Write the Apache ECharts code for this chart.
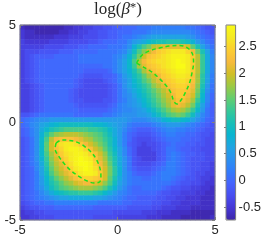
<!DOCTYPE html>
<html><head><meta charset="utf-8">
<script src="https://cdn.jsdelivr.net/npm/echarts@6/dist/echarts.min.js"></script>
<style>html,body{margin:0;padding:0;background:#fff}#c{width:264px;height:242px}</style>
</head><body><div id="c"></div>
<script>
// ---- data ----
const xTicks = [-5, 0, 5];
const yTicks = [-5, 0, 5];
const cbTicks = [-0.5, 0, 0.5, 1, 1.5, 2, 2.5];
const cbMin = -0.74, cbMax = 2.9;
// each character is one cell value: A=-0.8, B=-0.7, ... I=0.0 ... S=1.0 ... c=2.0 ... l=2.9
const levelChars = "ABCDEFGHIJKLMNOPQRSTUVWXYZabcdefghijkl";
const levelBase = -0.8, levelStep = 0.1;
// rows from top (y = 5) to bottom (y = -5), columns from x = -5 to x = 5
const gridRows = [
"CBBBBBBBBCCDDEEFFGGHHIIIJJJKKKKKKKJJIHGG",
"DCCBBBBBCCDDEEFFGGHHIIIJJJKLLLLLLLLKJIHG",
"DCCCCCCDDDEEEFFFGGHHIJJKLMNOOOOOOONMKJIH",
"EDDDDDEEEEFFFFGGHIIIJJLNOPRSTTUUUTSQNLJI",
"EEEEEFFFFGGGHHIIIIJJJKMQTWYbcdddddcXTOLJ",
"EFFFGGGGHHHIIIIIJJJJKLOSWZceghijjjheYTOK",
"EFGHHHHIIIIIJJJJJJJKLNQUYcfghijkkkjgbVPL",
"EFGHIIIIIIIIJJJJJJJKMORWbeghiijklkjgbVPL",
"EFGHIIIIIIIIIIIIIJJKMORVadfghijklljgbVPL",
"EFGHIIIIIIIIIHHHHHIKMOQTWadfghijkkjgbVPL",
"EFGHIIIIIIIIHGGGGHHIKNPSUXaceghijjifaUOK",
"EFGHIIIIIIIHGFFFFGHIKMORTWYbdfghiihfaUOK",
"EEFGHIIIIIIHGFFFFFGHJMOQSUWZbdfghhgeZTNJ",
"EEFGHIIIIIHGFFFFFFGHJLNPRTVXZbdfggfdYSMJ",
"EEFGHIIIIIHGFFFFFFGHJLMOQSUWYaceggecXRLI",
"EEFGHIIIIIHGGFFFFGGHJKMNPRTVXZbdffdaVQLI",
"EEFGHIIIIIIHGGGGGGHIKLMNOQSUWYadedbYTOKH",
"EEFGHIIIIIIIHHHHHHIJKLLMNOQSUWYabaYVRNJH",
"GGHIJJJJJJJIIIIIIJJKLMMMNNOQSUWXYXVSOLJH",
"IJKLMMNNNNNNNNNNNNNNNNMLLLMNOQRSSRQOMKIH",
"IJLMOPQRSSSSSSSRRQPONMKJJJJKLMNNNMLKJIHG",
"HIKMPRTUVWWWWWVVUTRPNLJIHHHIJKLLKKJJIHGG",
"HIKMQUXZabbbaZYXWUSPNKIHGGGHIJKKJJIIHGGF",
"GHJMRWbefffedbaYXVTQNKIGFFFGHIJJJIIHHGFF",
"GHJMRXcgijjigecaYWTQNKHGFEFFGHIJIIHHGGFF",
"GHJMRXcfhjkkjhfcaXUROLIGEEEFGHJJIHHGGFFF",
"GHJMRWadgijkkjhfcZVSOLIGEEEEGHJKJIHHGGFF",
"GHJMQVZcfhjklkjgdaWTPMJGFEEEGHJKJIHGGGFF",
"GHJLPUYbdgikllkhebXTPMJGFFFGHIKKJIHGGFFE",
"GHILOTXacehjklkifcYUQMJHGGGHIJKKJIHGGFFE",
"GHIKOSWZbdfhjkkjgcYUQMKIHHHIJKKKJIHGFFEE",
"GHIKNRUXZbdfghhgfcXTPMKJJIIJJKKJIHGGFEED",
"GHIKNQTVXZacdeedcZWSOMKJJJJJJJJIHGGFFEDD",
"GHIKMPSUWXYZaaaZYWTQNLJIIJJJJIHGGFFEEDDC",
"GHIJLNPRSTUUVVVUTRPNLKJIIIIIHGGFFEEEDDCC",
"GHIJKLMNOOPPPPPOONMLKJIIHHHHGGFFEEDDDCCC",
"FGHIIJJKKKKKKKKKJJJJJIIHHHHGGFFEEDDDDCCC",
"EFGGHHHIIIIIIIIHHHHHHHGGGGGFFEEEDDDCCCCC",
"DEEFFGGGGGGGGGGGGGGFFFFFFEEEDDDCCCCBBBBB",
"DDEEFFFGGGGGGGGFFFFFEEEEEEDDDCCCCBBBBBBC"
];
// dashed contour around the upper-right peak (data coordinates)
const contourAx = [0.98, 1.25, 1.65, 2.15, 2.65, 3.15, 3.60, 3.85, 3.90, 3.82, 3.70, 3.50, 3.28, 3.05, 2.88, 2.75, 2.50, 2.15, 1.75, 1.35, 0.98];
const contourAy = [3.04, 3.45, 3.68, 3.82, 3.92, 3.95, 3.82, 3.50, 3.05, 2.55, 2.05, 1.58, 1.18, 0.95, 1.10, 1.50, 1.88, 2.25, 2.60, 2.83, 3.04];
// dashed contour around the lower-left peak
const contourBx = [-3.15, -2.85, -2.45, -2.05, -1.70, -1.35, -1.08, -0.90, -0.85, -0.92, -1.20, -1.60, -2.00, -2.35, -2.70, -3.00, -3.20, -3.15];
const contourBy = [-1.05, -0.90, -0.92, -1.02, -1.22, -1.52, -1.90, -2.35, -2.75, -3.05, -3.10, -2.98, -2.75, -2.50, -2.15, -1.75, -1.35, -1.05];

// ---- build ----
const nRows = gridRows.length, nCols = gridRows[0].length;
const cells = [];
gridRows.forEach((row, i) => {
  for (let j = 0; j < row.length; j++) {
    const v = levelBase + levelStep * levelChars.indexOf(row[j]);
    cells.push([j, nRows - 1 - i, +v.toFixed(2)]);
  }
});
const colCats = Array.from({length: nCols}, (_, k) => k);
const rowCats = Array.from({length: nRows}, (_, k) => k);
const cA = contourAx.map((x, k) => [x, contourAy[k]]);
const cB = contourBx.map((x, k) => [x, contourBy[k]]);

const parula = ['#3e26a8','#4537d5','#484df0','#4563fd','#327cfc','#2b91ef','#20a5e3','#08b5d0','#19bfb6','#37c897','#64cd6f','#9dc943','#d1bf27','#f8ba3d','#fccf30','#f5e924','#f9fb15'];
const frame = '#808080', txt = '#262626', font = 'Liberation Sans';

const chart = echarts.init(document.getElementById('c'), null, {renderer: 'canvas', width: 264, height: 242});
const valAxisX = (pos, labels) => ({
  type: 'value', gridIndex: 0, min: xTicks[0], max: xTicks[xTicks.length-1], interval: 5, position: pos, z: 6,
  axisLine: {show: false, onZero: false}, splitLine: {show: false},
  axisTick: {inside: true, length: 3, lineStyle: {color: frame}},
  axisLabel: labels ? {margin: 4, color: txt, fontSize: 13, fontFamily: font} : {show: false}
});
const valAxisY = (pos, labels) => ({
  type: 'value', gridIndex: 0, min: yTicks[0], max: yTicks[yTicks.length-1], interval: 5, position: pos, z: 6,
  axisLine: {show: false, onZero: false}, splitLine: {show: false},
  axisTick: {inside: true, length: 3, lineStyle: {color: frame}},
  axisLabel: labels ? {margin: 4, color: txt, fontSize: 13, fontFamily: font} : {show: false}
});
chart.setOption({
  animation: false,
  backgroundColor: '#fff',
  title: {
    text: '{a|log(}{b|β}{c|*}{a|)}',
    left: 118, top: 1, textAlign: 'center', padding: 0,
    textStyle: {fontWeight: 'normal', rich: {
      a: {fontFamily: 'Liberation Serif', fontSize: 17, fontWeight: 'normal', color: txt},
      b: {fontFamily: 'Liberation Serif', fontStyle: 'italic', fontWeight: 'normal', fontSize: 17, color: txt},
      c: {fontFamily: 'Liberation Serif', fontSize: 13, fontWeight: 'normal', color: txt, verticalAlign: 'top'}
    }}
  },
  grid: [
    {left: 20, top: 25, width: 195, height: 195, show: true, borderColor: frame, borderWidth: 1, backgroundColor: 'transparent', z: 5},
    {left: 226, top: 25, width: 10, height: 195, show: true, borderColor: frame, borderWidth: 1, backgroundColor: 'transparent', z: 5}
  ],
  xAxis: [
    {type: 'category', data: colCats, gridIndex: 0, show: false},
    valAxisX('bottom', true),
    valAxisX('top', false),
    {type: 'value', gridIndex: 1, min: 0, max: 1, show: false}
  ],
  yAxis: [
    {type: 'category', data: rowCats, gridIndex: 0, show: false},
    valAxisY('left', true),
    valAxisY('right', false),
    {type: 'value', gridIndex: 1, min: cbMin, max: cbMax, position: 'right', z: 6,
     axisLine: {show: false}, splitLine: {show: false},
     axisTick: {inside: true, length: 2, customValues: cbTicks, lineStyle: {color: frame}},
     axisLabel: {customValues: cbTicks, margin: 3, color: txt, fontSize: 13, fontFamily: font}}
  ],
  visualMap: {
    type: 'continuous', min: cbMin, max: cbMax, seriesIndex: 0, dimension: 2,
    calculable: false, orient: 'vertical', left: 226, top: 25, itemWidth: 10, itemHeight: 195,
    padding: 0, z: 2, hoverLink: false, inRange: {color: parula}
  },
  series: [
    {type: 'heatmap', xAxisIndex: 0, yAxisIndex: 0, data: cells, progressive: 0, emphasis: {disabled: true}},
    {type: 'line', xAxisIndex: 1, yAxisIndex: 1, data: cA, smooth: 0.35, symbol: 'none', silent: true, z: 4,
     lineStyle: {color: '#1ee01e', width: 1.5, type: [4, 3]}},
    {type: 'line', xAxisIndex: 1, yAxisIndex: 1, data: cB, smooth: 0.35, symbol: 'none', silent: true, z: 4,
     lineStyle: {color: '#1ee01e', width: 1.5, type: [4, 3]}}
  ]
});
</script>
</body></html>
